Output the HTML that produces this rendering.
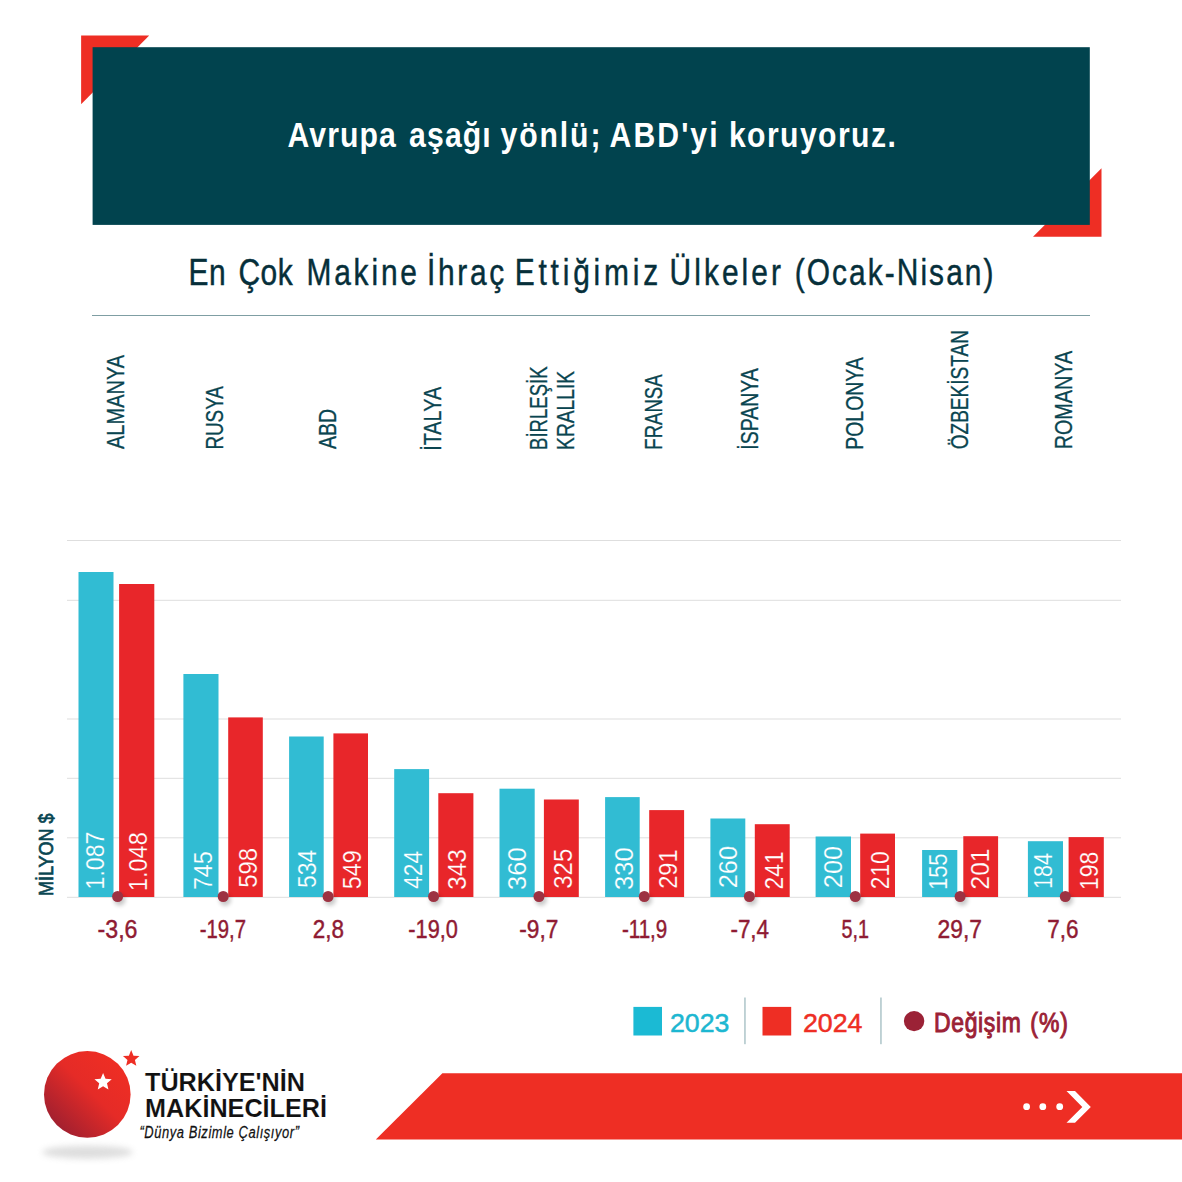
<!DOCTYPE html>
<html><head><meta charset="utf-8"><style>
html,body{margin:0;padding:0;background:#fff;}
svg{display:block;} text{font-family:"Liberation Sans",sans-serif;}
</style></head><body>
<svg width="1182" height="1182" viewBox="0 0 1182 1182">
<defs>
<filter id="blur" x="-100%" y="-100%" width="300%" height="300%"><feGaussianBlur stdDeviation="2.2"/></filter>
<filter id="blur3" x="-50%" y="-200%" width="200%" height="500%"><feGaussianBlur stdDeviation="3"/></filter>
<linearGradient id="lg" x1="0.85" y1="0.15" x2="0.15" y2="0.85">
<stop offset="0" stop-color="#ee2e24"/><stop offset="0.45" stop-color="#e52b27"/><stop offset="1" stop-color="#a3202f"/></linearGradient>
</defs>
<rect width="1182" height="1182" fill="#fff"/>
<polygon points="81.1,35.4 149.2,35.4 81.1,104.3" fill="#ee2e24"/>
<polygon points="1101.5,168.3 1101.5,236.8 1033,236.8" fill="#ee2e24"/>
<rect x="92.6" y="47.2" width="997.2" height="177.7" fill="#01434e"/>
<text transform="translate(287.60,146.7) scale(0.85,1)" font-family="Liberation Sans" font-weight="bold" font-size="35.5" fill="#fff" textLength="127.41" lengthAdjust="spacing">Avrupa</text>
<text transform="translate(409.10,146.7) scale(0.85,1)" font-family="Liberation Sans" font-weight="bold" font-size="35.5" fill="#fff" textLength="96.00" lengthAdjust="spacing">aşağı</text>
<text transform="translate(500.50,146.7) scale(0.85,1)" font-family="Liberation Sans" font-weight="bold" font-size="35.5" fill="#fff" textLength="117.65" lengthAdjust="spacing">yönlü;</text>
<text transform="translate(609.60,146.7) scale(0.85,1)" font-family="Liberation Sans" font-weight="bold" font-size="35.5" fill="#fff" textLength="127.06" lengthAdjust="spacing">ABD'yi</text>
<text transform="translate(728.90,146.7) scale(0.85,1)" font-family="Liberation Sans" font-weight="bold" font-size="35.5" fill="#fff" textLength="196.35" lengthAdjust="spacing">koruyoruz.</text>
<text transform="translate(188.40,285) scale(0.82,1)" font-family="Liberation Sans" font-size="36.5" fill="#062f3a" stroke="#062f3a" stroke-width="0.45" textLength="45.49" lengthAdjust="spacing">En</text>
<text transform="translate(238.50,285) scale(0.82,1)" font-family="Liberation Sans" font-size="36.5" fill="#062f3a" stroke="#062f3a" stroke-width="0.45" textLength="65.98" lengthAdjust="spacing">Çok</text>
<text transform="translate(306.40,285) scale(0.82,1)" font-family="Liberation Sans" font-size="36.5" fill="#062f3a" stroke="#062f3a" stroke-width="0.45" textLength="134.88" lengthAdjust="spacing">Makine</text>
<text transform="translate(427.00,285) scale(0.82,1)" font-family="Liberation Sans" font-size="36.5" fill="#062f3a" stroke="#062f3a" stroke-width="0.45" textLength="94.15" lengthAdjust="spacing">İhraç</text>
<text transform="translate(514.70,285) scale(0.82,1)" font-family="Liberation Sans" font-size="36.5" fill="#062f3a" stroke="#062f3a" stroke-width="0.45" textLength="175.00" lengthAdjust="spacing">Ettiğimiz</text>
<text transform="translate(669.60,285) scale(0.82,1)" font-family="Liberation Sans" font-size="36.5" fill="#062f3a" stroke="#062f3a" stroke-width="0.45" textLength="135.73" lengthAdjust="spacing">Ülkeler</text>
<text transform="translate(794.70,285) scale(0.82,1)" font-family="Liberation Sans" font-size="36.5" fill="#062f3a" stroke="#062f3a" stroke-width="0.45" textLength="242.44" lengthAdjust="spacing">(Ocak-Nisan)</text>
<rect x="92" y="315" width="998" height="1" fill="#7f9ea3"/>
<text transform="translate(123.56,449.00) rotate(-90)" font-family="Liberation Sans" font-size="24.5" fill="#0a4550" stroke="#0a4550" stroke-width="0.3" textLength="94.22" lengthAdjust="spacingAndGlyphs">ALMANYA</text>
<text transform="translate(222.94,449.54) rotate(-90)" font-family="Liberation Sans" font-size="24.5" fill="#0a4550" stroke="#0a4550" stroke-width="0.3" textLength="63.40" lengthAdjust="spacingAndGlyphs">RUSYA</text>
<text transform="translate(335.50,449.00) rotate(-90)" font-family="Liberation Sans" font-size="24.5" fill="#0a4550" stroke="#0a4550" stroke-width="0.3" textLength="40.12" lengthAdjust="spacingAndGlyphs">ABD</text>
<text transform="translate(441.22,450.80) rotate(-90)" font-family="Liberation Sans" font-size="24.5" fill="#0a4550" stroke="#0a4550" stroke-width="0.3" textLength="63.96" lengthAdjust="spacingAndGlyphs">İTALYA</text>
<text transform="translate(546.56,449.90) rotate(-90)" font-family="Liberation Sans" font-size="24.5" fill="#0a4550" stroke="#0a4550" stroke-width="0.3" textLength="83.40" lengthAdjust="spacingAndGlyphs">BİRLEŞİK</text>
<text transform="translate(573.78,449.90) rotate(-90)" font-family="Liberation Sans" font-size="24.5" fill="#0a4550" stroke="#0a4550" stroke-width="0.3" textLength="79.02" lengthAdjust="spacingAndGlyphs">KRALLIK</text>
<text transform="translate(662.44,449.72) rotate(-90)" font-family="Liberation Sans" font-size="24.5" fill="#0a4550" stroke="#0a4550" stroke-width="0.3" textLength="75.40" lengthAdjust="spacingAndGlyphs">FRANSA</text>
<text transform="translate(757.50,449.72) rotate(-90)" font-family="Liberation Sans" font-size="24.5" fill="#0a4550" stroke="#0a4550" stroke-width="0.3" textLength="81.54" lengthAdjust="spacingAndGlyphs">İSPANYA</text>
<text transform="translate(863.06,449.72) rotate(-90)" font-family="Liberation Sans" font-size="24.5" fill="#0a4550" stroke="#0a4550" stroke-width="0.3" textLength="92.44" lengthAdjust="spacingAndGlyphs">POLONYA</text>
<text transform="translate(967.56,449.36) rotate(-90)" font-family="Liberation Sans" font-size="24.5" fill="#0a4550" stroke="#0a4550" stroke-width="0.3" textLength="119.44" lengthAdjust="spacingAndGlyphs">ÖZBEKİSTAN</text>
<text transform="translate(1071.50,449.36) rotate(-90)" font-family="Liberation Sans" font-size="24.5" fill="#0a4550" stroke="#0a4550" stroke-width="0.3" textLength="98.50" lengthAdjust="spacingAndGlyphs">ROMANYA</text>
<rect x="67" y="540.0" width="1054" height="1" fill="#dedede"/>
<rect x="67" y="599.8" width="1054" height="1" fill="#dedede"/>
<rect x="67" y="718.5" width="1054" height="1" fill="#dedede"/>
<rect x="67" y="777.8" width="1054" height="1" fill="#dedede"/>
<rect x="67" y="837.3" width="1054" height="1" fill="#dedede"/>
<rect x="67" y="896.8" width="1054" height="1" fill="#dedede"/>
<rect x="78.5" y="572" width="35.0" height="325.0" fill="#31bcd3"/>
<rect x="119.1" y="584" width="35.2" height="313.0" fill="#e8262a"/>
<text transform="translate(104.20,889.40) rotate(-90)" font-family="Liberation Sans" font-size="26.5" fill="#fff" stroke="#31bcd3" stroke-width="0.2" textLength="57.80" lengthAdjust="spacingAndGlyphs">1.087</text>
<text transform="translate(146.70,891.02) rotate(-90)" font-family="Liberation Sans" font-size="26.5" fill="#fff" stroke="#e8262a" stroke-width="0.2" textLength="58.70" lengthAdjust="spacingAndGlyphs">1.048</text>
<circle cx="119.6" cy="900" r="5.8" fill="#000" opacity="0.22" filter="url(#blur)"/>
<circle cx="117.6" cy="896.5" r="5.5" fill="#9d3242"/>
<text x="0" y="938" text-anchor="middle" font-family="Liberation Sans" font-size="25.5" fill="#8f1b33" stroke="#8f1b33" stroke-width="0.45" transform="translate(117.52,0) scale(0.9085,1)">-3,6</text>
<rect x="183.4" y="674" width="35.1" height="223.0" fill="#31bcd3"/>
<rect x="228.2" y="717.4" width="34.6" height="179.6" fill="#e8262a"/>
<text transform="translate(211.85,890.12) rotate(-90)" font-family="Liberation Sans" font-size="26.5" fill="#fff" stroke="#31bcd3" stroke-width="0.2" textLength="38.90" lengthAdjust="spacingAndGlyphs">745</text>
<text transform="translate(257.48,887.78) rotate(-90)" font-family="Liberation Sans" font-size="26.5" fill="#fff" stroke="#e8262a" stroke-width="0.2" textLength="39.80" lengthAdjust="spacingAndGlyphs">598</text>
<circle cx="225.2" cy="900" r="5.8" fill="#000" opacity="0.22" filter="url(#blur)"/>
<circle cx="223.2" cy="896.5" r="5.5" fill="#9d3242"/>
<text x="0" y="938" text-anchor="middle" font-family="Liberation Sans" font-size="25.5" fill="#8f1b33" stroke="#8f1b33" stroke-width="0.45" transform="translate(222.86,0) scale(0.7968,1)">-19,7</text>
<rect x="289.1" y="736.5" width="34.6" height="160.5" fill="#31bcd3"/>
<rect x="333.4" y="733.4" width="34.6" height="163.6" fill="#e8262a"/>
<text transform="translate(316.40,887.96) rotate(-90)" font-family="Liberation Sans" font-size="26.5" fill="#fff" stroke="#31bcd3" stroke-width="0.2" textLength="38.36" lengthAdjust="spacingAndGlyphs">534</text>
<text transform="translate(360.88,889.22) rotate(-90)" font-family="Liberation Sans" font-size="26.5" fill="#fff" stroke="#e8262a" stroke-width="0.2" textLength="39.08" lengthAdjust="spacingAndGlyphs">549</text>
<circle cx="330.1" cy="900" r="5.8" fill="#000" opacity="0.22" filter="url(#blur)"/>
<circle cx="328.1" cy="896.5" r="5.5" fill="#9d3242"/>
<text x="0" y="938" text-anchor="middle" font-family="Liberation Sans" font-size="25.5" fill="#8f1b33" stroke="#8f1b33" stroke-width="0.45" transform="translate(328.40,0) scale(0.8790,1)">2,8</text>
<rect x="394.2" y="769.1" width="34.9" height="127.9" fill="#31bcd3"/>
<rect x="438.3" y="793.2" width="35.1" height="103.8" fill="#e8262a"/>
<text transform="translate(422.37,888.86) rotate(-90)" font-family="Liberation Sans" font-size="26.5" fill="#fff" stroke="#31bcd3" stroke-width="0.2" textLength="38.18" lengthAdjust="spacingAndGlyphs">424</text>
<text transform="translate(466.21,889.76) rotate(-90)" font-family="Liberation Sans" font-size="26.5" fill="#fff" stroke="#e8262a" stroke-width="0.2" textLength="40.34" lengthAdjust="spacingAndGlyphs">343</text>
<circle cx="435.6" cy="900" r="5.8" fill="#000" opacity="0.22" filter="url(#blur)"/>
<circle cx="433.6" cy="896.5" r="5.5" fill="#9d3242"/>
<text x="0" y="938" text-anchor="middle" font-family="Liberation Sans" font-size="25.5" fill="#8f1b33" stroke="#8f1b33" stroke-width="0.45" transform="translate(433.09,0) scale(0.8537,1)">-19,0</text>
<rect x="499.5" y="788.7" width="35.2" height="108.3" fill="#31bcd3"/>
<rect x="543.9" y="799.5" width="34.9" height="97.5" fill="#e8262a"/>
<text transform="translate(525.84,889.94) rotate(-90)" font-family="Liberation Sans" font-size="26.5" fill="#fff" stroke="#31bcd3" stroke-width="0.2" textLength="42.50" lengthAdjust="spacingAndGlyphs">360</text>
<text transform="translate(571.71,888.86) rotate(-90)" font-family="Liberation Sans" font-size="26.5" fill="#fff" stroke="#e8262a" stroke-width="0.2" textLength="40.16" lengthAdjust="spacingAndGlyphs">325</text>
<circle cx="541" cy="900" r="5.8" fill="#000" opacity="0.22" filter="url(#blur)"/>
<circle cx="539" cy="896.5" r="5.5" fill="#9d3242"/>
<text x="0" y="938" text-anchor="middle" font-family="Liberation Sans" font-size="25.5" fill="#8f1b33" stroke="#8f1b33" stroke-width="0.45" transform="translate(538.76,0) scale(0.8897,1)">-9,7</text>
<rect x="605.1" y="797.1" width="34.6" height="99.9" fill="#31bcd3"/>
<rect x="649.2" y="810.1" width="34.9" height="86.9" fill="#e8262a"/>
<text transform="translate(632.76,889.94) rotate(-90)" font-family="Liberation Sans" font-size="26.5" fill="#fff" stroke="#31bcd3" stroke-width="0.2" textLength="42.50" lengthAdjust="spacingAndGlyphs">330</text>
<text transform="translate(677.37,888.86) rotate(-90)" font-family="Liberation Sans" font-size="26.5" fill="#fff" stroke="#e8262a" stroke-width="0.2" textLength="39.62" lengthAdjust="spacingAndGlyphs">291</text>
<circle cx="646.3" cy="900" r="5.8" fill="#000" opacity="0.22" filter="url(#blur)"/>
<circle cx="644.3" cy="896.5" r="5.5" fill="#9d3242"/>
<text x="0" y="938" text-anchor="middle" font-family="Liberation Sans" font-size="25.5" fill="#8f1b33" stroke="#8f1b33" stroke-width="0.45" transform="translate(644.58,0) scale(0.8057,1)">-11,9</text>
<rect x="710.4" y="818.5" width="34.9" height="78.5" fill="#31bcd3"/>
<rect x="754.8" y="824.2" width="34.9" height="72.8" fill="#e8262a"/>
<text transform="translate(737.49,888.32) rotate(-90)" font-family="Liberation Sans" font-size="26.5" fill="#fff" stroke="#31bcd3" stroke-width="0.2" textLength="42.50" lengthAdjust="spacingAndGlyphs">260</text>
<text transform="translate(782.97,889.40) rotate(-90)" font-family="Liberation Sans" font-size="26.5" fill="#fff" stroke="#e8262a" stroke-width="0.2" textLength="38.00" lengthAdjust="spacingAndGlyphs">241</text>
<circle cx="751.4" cy="900" r="5.8" fill="#000" opacity="0.22" filter="url(#blur)"/>
<circle cx="749.4" cy="896.5" r="5.5" fill="#9d3242"/>
<text x="0" y="938" text-anchor="middle" font-family="Liberation Sans" font-size="25.5" fill="#8f1b33" stroke="#8f1b33" stroke-width="0.45" transform="translate(749.74,0) scale(0.8804,1)">-7,4</text>
<rect x="815.6" y="836.5" width="35.4" height="60.5" fill="#31bcd3"/>
<rect x="860.2" y="833.6" width="34.8" height="63.4" fill="#e8262a"/>
<text transform="translate(842.04,888.14) rotate(-90)" font-family="Liberation Sans" font-size="26.5" fill="#fff" stroke="#31bcd3" stroke-width="0.2" textLength="42.14" lengthAdjust="spacingAndGlyphs">200</text>
<text transform="translate(889.22,889.22) rotate(-90)" font-family="Liberation Sans" font-size="26.5" fill="#fff" stroke="#e8262a" stroke-width="0.2" textLength="37.82" lengthAdjust="spacingAndGlyphs">210</text>
<circle cx="857.3" cy="900" r="5.8" fill="#000" opacity="0.22" filter="url(#blur)"/>
<circle cx="855.3" cy="896.5" r="5.5" fill="#9d3242"/>
<text x="0" y="938" text-anchor="middle" font-family="Liberation Sans" font-size="25.5" fill="#8f1b33" stroke="#8f1b33" stroke-width="0.45" transform="translate(855.31,0) scale(0.7730,1)">5,1</text>
<rect x="922.1" y="850" width="35.2" height="47.0" fill="#31bcd3"/>
<rect x="963.3" y="836.2" width="34.8" height="60.8" fill="#e8262a"/>
<text transform="translate(947.00,890.12) rotate(-90)" font-family="Liberation Sans" font-size="26.5" fill="#fff" stroke="#31bcd3" stroke-width="0.2" textLength="36.74" lengthAdjust="spacingAndGlyphs">155</text>
<text transform="translate(989.26,889.40) rotate(-90)" font-family="Liberation Sans" font-size="26.5" fill="#fff" stroke="#e8262a" stroke-width="0.2" textLength="40.88" lengthAdjust="spacingAndGlyphs">201</text>
<circle cx="962.1" cy="900" r="5.8" fill="#000" opacity="0.22" filter="url(#blur)"/>
<circle cx="960.1" cy="896.5" r="5.5" fill="#9d3242"/>
<text x="0" y="938" text-anchor="middle" font-family="Liberation Sans" font-size="25.5" fill="#8f1b33" stroke="#8f1b33" stroke-width="0.45" transform="translate(959.74,0) scale(0.8956,1)">29,7</text>
<rect x="1027.9" y="841.2" width="35.1" height="55.8" fill="#31bcd3"/>
<rect x="1068.6" y="837.1" width="35.2" height="59.9" fill="#e8262a"/>
<text transform="translate(1052.03,889.04) rotate(-90)" font-family="Liberation Sans" font-size="26.5" fill="#fff" stroke="#31bcd3" stroke-width="0.2" textLength="36.02" lengthAdjust="spacingAndGlyphs">184</text>
<text transform="translate(1098.00,890.12) rotate(-90)" font-family="Liberation Sans" font-size="26.5" fill="#fff" stroke="#e8262a" stroke-width="0.2" textLength="38.54" lengthAdjust="spacingAndGlyphs">198</text>
<circle cx="1067.3" cy="900" r="5.8" fill="#000" opacity="0.22" filter="url(#blur)"/>
<circle cx="1065.3" cy="896.5" r="5.5" fill="#9d3242"/>
<text x="0" y="938" text-anchor="middle" font-family="Liberation Sans" font-size="25.5" fill="#8f1b33" stroke="#8f1b33" stroke-width="0.45" transform="translate(1062.80,0) scale(0.8834,1)">7,6</text>
<text transform="translate(52.6,896) rotate(-90)" font-family="Liberation Sans" font-size="20.3" fill="#0a4652" stroke="#0a4652" stroke-width="0.7" textLength="82.5" lengthAdjust="spacingAndGlyphs">MİLYON $</text>
<rect x="633.4" y="1006.9" width="28.6" height="28.6" fill="#1bbad4"/>
<text x="670" y="1032" font-family="Liberation Sans" font-size="26.5" fill="#1db7d1" stroke="#1db7d1" stroke-width="0.5" textLength="59.5" lengthAdjust="spacingAndGlyphs">2023</text>
<rect x="744.2" y="997.5" width="1.5" height="46.7" fill="#adc5c9"/>
<rect x="762.5" y="1006.9" width="28.7" height="28.6" fill="#ee2e24"/>
<text x="803" y="1032" font-family="Liberation Sans" font-size="26.5" fill="#ee2e24" stroke="#ee2e24" stroke-width="0.5" textLength="59.5" lengthAdjust="spacingAndGlyphs">2024</text>
<rect x="880.2" y="997.5" width="1.5" height="46.7" fill="#adc5c9"/>
<circle cx="914.1" cy="1021.1" r="10.2" fill="#9b2236"/>
<text transform="translate(934.00,1031.6) scale(0.85,1)" font-family="Liberation Sans" font-size="27" fill="#9b2236" stroke="#9b2236" stroke-width="1.0" textLength="102.24" lengthAdjust="spacing">Değişim</text>
<text transform="translate(1030.30,1031.6) scale(0.85,1)" font-family="Liberation Sans" font-size="27" fill="#9b2236" stroke="#9b2236" stroke-width="1.0" textLength="44.35" lengthAdjust="spacing">(%)</text>
<polygon points="442.4,1073.2 1182,1073.2 1182,1139.6 375.8,1139.6" fill="#ee2e24"/>
<circle cx="1026.6" cy="1106.7" r="3.4" fill="#fff"/>
<circle cx="1042.8" cy="1106.7" r="3.4" fill="#fff"/>
<circle cx="1059.7" cy="1106.7" r="3.4" fill="#fff"/>
<polygon points="1066.5,1091.1 1075,1091.1 1090.8,1106.9 1075,1122.8 1066.5,1122.8 1082.3,1106.9" fill="#fff"/>
<ellipse cx="87.5" cy="1152.2" rx="45.5" ry="6.5" fill="#999" opacity="0.32" filter="url(#blur3)"/>
<circle cx="87.3" cy="1094.4" r="43.3" fill="url(#lg)"/>
<polygon points="103.10,1073.00 105.51,1078.79 111.75,1079.29 106.99,1083.37 108.45,1089.46 103.10,1086.19 97.75,1089.46 99.21,1083.37 94.45,1079.29 100.69,1078.79" fill="#fff"/>
<polygon points="131.20,1050.10 133.50,1055.63 139.47,1056.11 134.92,1060.01 136.31,1065.84 131.20,1062.71 126.09,1065.84 127.48,1060.01 122.93,1056.11 128.90,1055.63" fill="#ee2e24"/>
<text x="145" y="1090.8" font-family="Liberation Sans" font-weight="bold" font-size="25.2" fill="#111" stroke="#fff" stroke-width="0.12" textLength="160" lengthAdjust="spacingAndGlyphs">TÜRKİYE'NİN</text>
<text x="145" y="1117.2" font-family="Liberation Sans" font-weight="bold" font-size="25.2" fill="#111" stroke="#fff" stroke-width="0.12" textLength="182" lengthAdjust="spacingAndGlyphs">MAKİNECİLERİ</text>
<text transform="translate(139.5,1137.7) scale(0.76,1)" font-family="Liberation Sans" font-style="italic" font-size="17" fill="#111" stroke="#111" stroke-width="0.25" textLength="209.87" lengthAdjust="spacing">“Dünya Bizimle Çalışıyor”</text>
</svg>
</body></html>
